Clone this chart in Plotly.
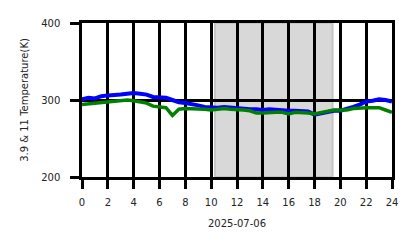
import plotly.graph_objects as go

hours = [i * 0.5 for i in range(49)]
blue_39 = [301, 303, 302, 305, 306, 306, 307, 308, 309, 308, 307, 304, 303, 303, 300, 297,
           296, 295, 293, 291, 290, 290, 291, 290, 290, 289, 288, 288, 287, 288, 287, 287,
           286, 286, 286, 285, 281, 283, 285, 286, 286, 288, 291, 294, 298, 299, 301, 300, 298]
green_11 = [294, 295, 296, 296, 297, 298, 299, 300, 299, 298, 296, 292, 291, 290, 280, 288,
            289, 289, 288, 288, 287, 288, 289, 288, 288, 287, 286, 283, 283, 284, 284, 284,
            282, 284, 284, 283, 282, 284, 286, 287, 287, 287, 289, 290, 290, 290, 290, 287, 284]
night_start, night_end = 10.3, 19.4
tick_vals = list(range(0, 25, 2))

fig = go.Figure()
fig.add_trace(go.Scatter(x=hours, y=blue_39, mode="lines", line=dict(color="#0000ff", width=4),
                         showlegend=False))
fig.add_trace(go.Scatter(x=hours, y=green_11, mode="lines", line=dict(color="#008000", width=3.5),
                         showlegend=False))
fig.add_shape(type="rect", xref="x", yref="paper", x0=night_start, x1=night_end, y0=0, y1=1,
              fillcolor="#d8d8d8", line=dict(color="#c4c4c4", width=2), layer="below")

font = dict(family="DejaVu Sans", size=10, color="#222")
axis_common = dict(showgrid=True, gridcolor="black", gridwidth=2.5, ticks="outside", ticklen=9,
                   tickwidth=2.5, tickcolor="black", showline=True, linecolor="black", linewidth=2.5,
                   mirror=True, zeroline=False, tickfont=font)
fig.update_xaxes(range=[0, 24], tickvals=tick_vals, ticktext=[str(v) for v in tick_vals],
                 ticklabelstandoff=5,
                 title=dict(text="2025-07-06", font=font, standoff=14), **axis_common)
fig.update_yaxes(range=[200, 400], tickvals=[200, 300, 400], ticklabelstandoff=8,
                 title=dict(text="3.9 & 11 Temperature(K)", font=font, standoff=11),
                 **axis_common)
fig.update_layout(width=418, height=248, margin=dict(l=82, r=26, t=23, b=71),
                  paper_bgcolor="white", plot_bgcolor="white")
fig.write_html("out.html")
